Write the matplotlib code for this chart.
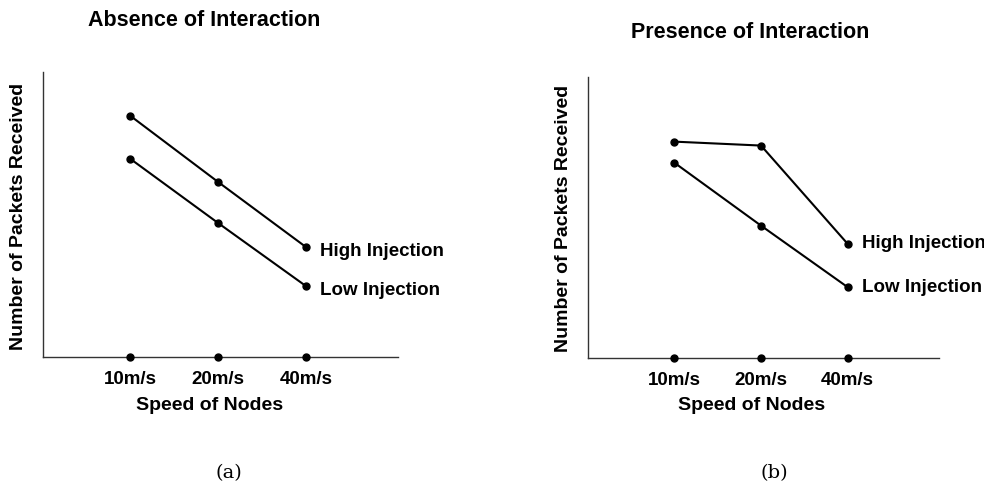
import matplotlib
matplotlib.use("Agg")
import matplotlib.pyplot as plt

# categories (speed of nodes)
speeds = ["10m/s", "20m/s", "40m/s"]

# no scale on the y axis, values read as % of axis height
absence_high = [84.6, 61.4, 38.6]
absence_low = [69.5, 47.0, 24.9]
presence_high = [77.0, 75.6, 40.6]
presence_low = [69.5, 47.1, 25.2]

titles = ["Absence of Interaction", "Presence of Interaction"]
captions = ["(a)", "(b)"]
series_names = ["High Injection", "Low Injection"]

plt.rcParams["font.family"] = ["Liberation Sans", "DejaVu Sans"]
plt.rcParams["font.weight"] = "bold"

fig = plt.figure(figsize=(9.84, 4.86), dpi=100)
W, H = 984.0, 486.0

# axes boxes in pixels: left, right, top, bottom
boxes = [(42.7, 398.0, 72.0, 357.0), (587.7, 938.7, 77.0, 358.0)]
title_pos = [(204, 21), (750, 32)]
ylabel_pos = [(19, 216), (564, 218)]
xlabel_pos = [(210, 405), (752, 405)]
caption_pos = [(229, 473), (774, 473)]
label_dy = [-3.5, 0]

panels = [(absence_high, absence_low), (presence_high, presence_low)]
x = [1, 2, 3]

for i, (hi, lo) in enumerate(panels):
    l, r, t, b = boxes[i]
    ax = fig.add_axes([l / W, (H - b) / H, (r - l) / W, (b - t) / H])
    for vals, name in zip((hi, lo), series_names):
        ax.plot(x, vals, "k-", lw=1.5, marker="o", ms=5)
        ax.annotate(name, (x[-1], vals[-1]), xytext=(10, label_dy[i]),
                    textcoords="offset points", va="center", ha="left",
                    fontsize=13.5, fontweight="bold")
    # dots on the x axis
    ax.plot(x, [0, 0, 0], "ko", ms=5, clip_on=False, zorder=5)
    ax.set_xlim(0, 4.05)
    ax.set_ylim(0, 100)
    ax.set_xticks(x)
    ax.set_xticklabels(speeds, fontsize=13.5, fontweight="bold")
    ax.tick_params(axis="x", length=0, pad=10)
    ax.set_yticks([])
    for s in ("top", "right"):
        ax.spines[s].set_visible(False)
    for s in ("left", "bottom"):
        ax.spines[s].set_color("#333333")
        ax.spines[s].set_linewidth(1.0)

    tx, ty = title_pos[i]
    fig.text(tx / W, 1 - ty / H, titles[i], ha="center", va="center",
             fontsize=15.5, fontweight="bold")
    yx, yy = ylabel_pos[i]
    fig.text(yx / W, 1 - yy / H, "Number of Packets Received", rotation=90,
             ha="center", va="center", fontsize=14, fontweight="bold")
    lx, ly = xlabel_pos[i]
    fig.text(lx / W, 1 - ly / H, "Speed of Nodes", ha="center", va="center",
             fontsize=14, fontweight="bold")
    cx, cy = caption_pos[i]
    fig.text(cx / W, 1 - cy / H, captions[i], ha="center", va="center",
             fontsize=14, fontweight="normal", family="DejaVu Serif")

fig.savefig("out.png", dpi=100)
